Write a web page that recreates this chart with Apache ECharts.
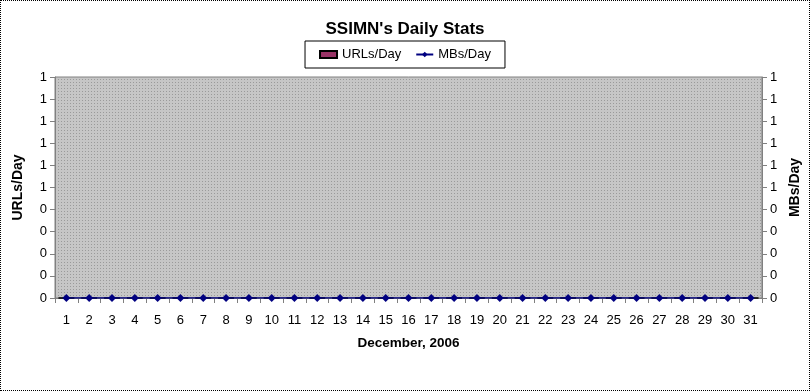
<!DOCTYPE html>
<html>
<head>
<meta charset="utf-8">
<script src="https://cdn.jsdelivr.net/npm/echarts@6/dist/echarts.min.js"></script>
<style>
html,body{margin:0;padding:0;background:#fff;}
#c{width:810px;height:391px;box-sizing:border-box;border:1px dotted #000;}
</style>
</head>
<body>
<div id="c"></div>
<script>
const days = ['1','2','3','4','5','6','7','8','9','10','11','12','13','14','15','16','17','18','19','20','21','22','23','24','25','26','27','28','29','30','31'];
const urlsPerDay = [0,0,0,0,0,0,0,0,0,0,0,0,0,0,0,0,0,0,0,0,0,0,0,0,0,0,0,0,0,0,0];
const mbsPerDay = [0,0,0,0,0,0,0,0,0,0,0,0,0,0,0,0,0,0,0,0,0,0,0,0,0,0,0,0,0,0,0];
const yMin = 0, yMax = 1, yStep = 0.1;

const pc = document.createElement('canvas');
pc.width = 3; pc.height = 3;
const px = pc.getContext('2d');
px.fillStyle = '#c6c6c6'; px.fillRect(0,0,3,3);
px.fillStyle = '#9a9a9a'; px.fillRect(0,0,1,1);

const font = 'Arial, "Liberation Sans", sans-serif';
const chart = echarts.init(document.getElementById('c'), null, {renderer:'canvas'});
const yAxisCommon = {
  type:'value', min:yMin, max:yMax, interval:yStep,
  axisLine:{show:true, lineStyle:{color:'#808080'}},
  axisTick:{show:true, length:5, lineStyle:{color:'#808080'}},
  splitLine:{show:false},
  axisLabel:{color:'#000', fontSize:13, fontFamily:font, formatter:v=>String(Math.round(v))},
  nameLocation:'middle',
  nameTextStyle:{color:'#000', fontSize:14, fontWeight:'bold', fontFamily:font}
};
chart.setOption({
  animation:false,
  title:{text:"SSIMN's Daily Stats", left:'center', top:15,
    textStyle:{fontSize:17, fontWeight:'bold', color:'#000', fontFamily:font}},
  legend:{top:40, left:'center', padding:[7,14], itemGap:14, itemWidth:17, itemHeight:7,
    borderColor:'#000', borderWidth:1, backgroundColor:'#fff',
    textStyle:{fontSize:13, color:'#000', fontFamily:font},
    data:[{name:'URLs/Day', icon:'rect'}, {name:'MBs/Day'}]},
  grid:{left:54, right:47, top:76, bottom:92, show:true, containLabel:false, outerBoundsMode:'none',
    backgroundColor:{image:pc, repeat:'repeat'}, borderColor:'#808080', borderWidth:1},
  xAxis:{type:'category', data:days, boundaryGap:true,
    name:'December, 2006', nameLocation:'middle', nameGap:38,
    nameTextStyle:{color:'#000', fontSize:13.5, fontWeight:'bold', fontFamily:font},
    axisLine:{lineStyle:{color:'#808080'}},
    axisTick:{show:true, length:5, lineStyle:{color:'#808080'}},
    axisLabel:{color:'#000', fontSize:13, fontFamily:font, margin:16, interval:0}},
  yAxis:[
    Object.assign({}, yAxisCommon, {position:'left', name:'URLs/Day', nameGap:30, nameRotate:90}),
    Object.assign({}, yAxisCommon, {position:'right', name:'MBs/Day', nameGap:25, nameRotate:90})
  ],
  series:[
    {name:'URLs/Day', type:'bar', data:urlsPerDay, yAxisIndex:0,
      itemStyle:{color:'#993366', borderColor:'#000', borderWidth:1}},
    {name:'MBs/Day', type:'line', data:mbsPerDay, yAxisIndex:1,
      symbol:'diamond', symbolSize:8, showSymbol:true,
      lineStyle:{color:'#000080', width:1.5},
      itemStyle:{color:'#000080'}}
  ]
});
</script>
</body>
</html>
